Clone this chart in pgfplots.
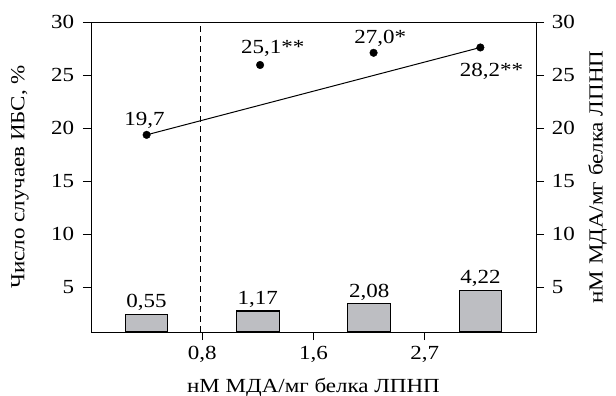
\documentclass[border=0pt]{standalone}
\usepackage{pgfplots}
\pgfplotsset{compat=1.18}
\usepackage{fontspec}
\setmainfont{Liberation Serif}[FakeStretch=1.15]
\definecolor{barfill}{HTML}{BDBEC2}
\begin{document}
\fontsize{20bp}{23bp}\selectfont
\begin{tikzpicture}
\pgfplotsset{
  every axis/.style={font=\fontsize{20bp}{23bp}\selectfont},
  /pgf/number format/assume math mode=true,
}
\begin{axis}[
  scale only axis, width=445bp, height=310bp,
  xmin=0.5, xmax=4.5, ymin=0.8, ymax=30,
  xtick={1.5,2.5,3.5}, xticklabels={{0,8},{1,6},{2,7}},
  ytick={5,10,15,20,25,30},
  xtick pos=bottom, ytick pos=left,
  tick align=outside, major tick length=8bp,
  tick style={black, line width=0.8pt},
  axis line style={line width=0.9pt},
  yticklabel style={xshift=-2bp},
  xticklabel style={yshift=1bp},
  xlabel={нМ МДА/мг белка ЛПНП},
  ylabel={Число случаев ИБС, \%},
  xlabel style={yshift=-2bp},
  ylabel style={yshift=9bp},
  clip=false,
]
% bars
\addplot[ybar, bar width=42.5bp, fill=barfill, draw=black, line width=1.1pt, bar shift=0pt]
  coordinates {(1,2.47) (2,2.78) (3,3.45) (4,4.75)};
% dashed separator
\addplot[black, dash pattern=on 6bp off 4bp, line width=0.7pt] coordinates {(1.48,0.8) (1.48,30)};
% trend line
\addplot[black, line width=1pt] coordinates {(1,19.37) (4,27.6)};
% points
\addplot[only marks, mark=*, mark size=3.8bp, black] coordinates {(1,19.37) (2.02,25.95) (3.04,27.1) (4,27.6)};
% bar labels
\node[anchor=base] at (axis cs:1,3.1) {0,55};
\node[anchor=base] at (axis cs:2,3.4) {1,17};
\node[anchor=base] at (axis cs:3,4.07) {2,08};
\node[anchor=base] at (axis cs:4,5.37) {4,22};
% point labels
\node[anchor=base] at (axis cs:0.98,20.27) {19,7};
\node[anchor=base] at (axis cs:2.134,27.07) {25,1**};
\node[anchor=base] at (axis cs:3.10,28.0) {27,0*};
\node[anchor=base] at (axis cs:4.10,24.85) {28,2**};
\coordinate (bl) at (rel axis cs:0,0);
\coordinate (tr) at (rel axis cs:1,1);
\end{axis}
\begin{axis}[
  scale only axis, width=445bp, height=310bp,
  xmin=0.5, xmax=4.5, ymin=0.8, ymax=30,
  axis x line=none,
  axis y line*=right,
  ytick={5,10,15,20,25,30},
  tick align=outside, major tick length=8bp,
  tick style={black, line width=0.8pt},
  axis line style={line width=0.9pt},
  yticklabel style={xshift=1bp},
  ylabel={нМ МДА/мг белка ЛПНП},
  ylabel style={yshift=0bp},
]
\end{axis}
\pgfresetboundingbox
\path ([shift={(-91bp,-63.5bp)}]bl) rectangle ([shift={(80bp,22bp)}]tr);
\end{tikzpicture}
\end{document}
